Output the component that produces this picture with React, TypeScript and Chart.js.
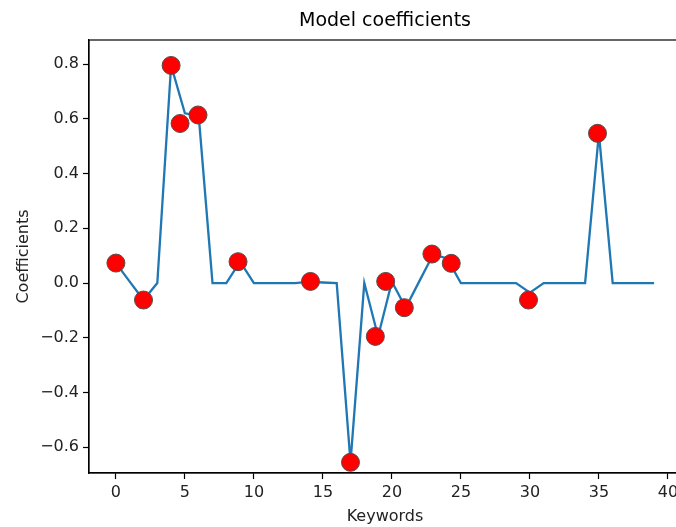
import React, { useEffect, useRef } from "react";
import { Chart, registerables } from "chart.js";

Chart.register(...registerables);

const keywordIdx = [
  0, 1, 2, 3, 4, 5, 6, 7, 8, 9, 10, 11, 12, 13, 14, 15, 16, 17, 18, 19,
  20, 21, 22, 23, 24, 25, 26, 27, 28, 29, 30, 31, 32, 33, 34, 35, 36, 37, 38, 39,
];
const coefficients = [
  0.073, 0.005, -0.062, 0.0, 0.795, 0.62, 0.612, 0.0, 0.0, 0.078,
  0.0, 0.0, 0.0, 0.0, 0.005, 0.002, 0.0, -0.655, 0.0, -0.195,
  0.005, -0.09, 0.008, 0.105, 0.09, 0.0, 0.0, 0.0, 0.0, 0.0,
  -0.035, 0.0, 0.0, 0.0, 0.0, 0.547, 0.0, 0.0, 0.0, 0.0,
];
const markerX = [0, 2.0, 4.0, 4.65, 5.95, 8.85, 14.1, 17.0, 18.8, 19.55, 20.9, 22.9, 24.3, 29.9, 34.9];
const markerY = [0.073, -0.062, 0.795, 0.583, 0.614, 0.078, 0.006, -0.655, -0.195, 0.006, -0.09, 0.106, 0.072, -0.062, 0.547];
const xTicks = [0, 5, 10, 15, 20, 25, 30, 35, 40];
const yTicks = [-0.6, -0.4, -0.2, 0.0, 0.2, 0.4, 0.6, 0.8];

const titleText = "Model coefficients";
const xLabel = "Keywords";
const yLabel = "Coefficients";

const FONT = "'DejaVu Sans', sans-serif";

export default function App() {
  const ref = useRef<HTMLCanvasElement | null>(null);

  useEffect(() => {
    const canvas = ref.current;
    if (!canvas) return;
    Chart.defaults.font.family = FONT;

    const framePlugin = {
      id: "frame",
      afterDatasetsDraw(chart: any) {
        const { ctx, chartArea } = chart;
        ctx.save();
        ctx.strokeStyle = "#000";
        ctx.lineWidth = 1.2;
        ctx.strokeRect(chartArea.left, chartArea.top, chartArea.right - chartArea.left, chartArea.bottom - chartArea.top);
        ctx.restore();
      },
      afterDraw(chart: any) {
        const { ctx, chartArea } = chart;
        ctx.save();
        ctx.fillStyle = "#000";
        ctx.font = `19px ${FONT}`;
        ctx.textAlign = "center";
        ctx.textBaseline = "middle";
        ctx.fillText(titleText, (chartArea.left + chartArea.right) / 2, 21);
        ctx.restore();
      },
    };

    const chart = new Chart(canvas, {
      type: "line",
      data: {
        datasets: [
          {
            type: "scatter",
            data: markerX.map((x, i) => ({ x, y: markerY[i] })),
            backgroundColor: "#ff0000",
            borderColor: "#5a4a4a",
            borderWidth: 1,
            pointRadius: 9,
            order: 0,
          } as any,
          {
            type: "line",
            data: keywordIdx.map((x, i) => ({ x, y: coefficients[i] })),
            borderColor: "#1f77b4",
            borderWidth: 2.3,
            pointRadius: 0,
            tension: 0,
            fill: false,
            order: 1,
          },
        ],
      },
      options: {
        animation: false,
        responsive: false,
        devicePixelRatio: 1,
        layout: { padding: { left: 0, right: 19, top: 40, bottom: 0 } },
        plugins: {
          legend: { display: false },
          tooltip: { enabled: false },
          title: { display: false },
        },
        scales: {
          x: {
            type: "linear",
            min: -1.95,
            max: 40.95,
            afterBuildTicks: (s: any) => {
              s.ticks = xTicks.map((v) => ({ value: v }));
            },
            afterFit: (s: any) => {
              s.height = 54;
            },
            ticks: {
              font: { size: 16 },
              color: "#222",
              padding: 4,
              maxRotation: 0,
              autoSkip: false,
              callback: (v: any) => String(v),
            },
            grid: {
              drawOnChartArea: false,
              drawTicks: true,
              tickLength: 6,
              tickColor: "#000",
              tickWidth: 1.2,
            },
            border: { display: true, color: "#000", width: 1.2 },
            title: {
              display: true,
              text: xLabel,
              font: { size: 16 },
              color: "#222",
              padding: { top: 0, bottom: 1 },
            },
          },
          y: {
            type: "linear",
            min: -0.694,
            max: 0.888,
            afterBuildTicks: (s: any) => {
              s.ticks = yTicks.map((v) => ({ value: v }));
            },
            afterFit: (s: any) => {
              s.width = 89;
            },
            ticks: {
              font: { size: 16 },
              color: "#222",
              padding: 4,
              autoSkip: false,
              callback: (v: any) => {
                const n = Number(v);
                const t = Math.abs(n).toFixed(1);
                return n < -1e-9 ? "\u2212" + t : t;
              },
            },
            grid: {
              drawOnChartArea: false,
              drawTicks: true,
              tickLength: 6,
              tickColor: "#000",
              tickWidth: 1.2,
            },
            border: { display: true, color: "#000", width: 1.2 },
            title: {
              display: true,
              text: yLabel,
              font: { size: 16 },
              color: "#222",
              padding: { top: 14, bottom: 0 },
            },
          },
        },
      },
      plugins: [framePlugin],
    });

    return () => chart.destroy();
  }, []);

  return (
    <div
      style={{
        position: "fixed",
        left: 0,
        top: 0,
        width: 676,
        height: 527,
        overflow: "hidden",
        background: "#fff",
      }}
    >
      <canvas ref={ref} width={700} height={527} style={{ display: "block", width: 700, height: 527 }} />
    </div>
  );
}
